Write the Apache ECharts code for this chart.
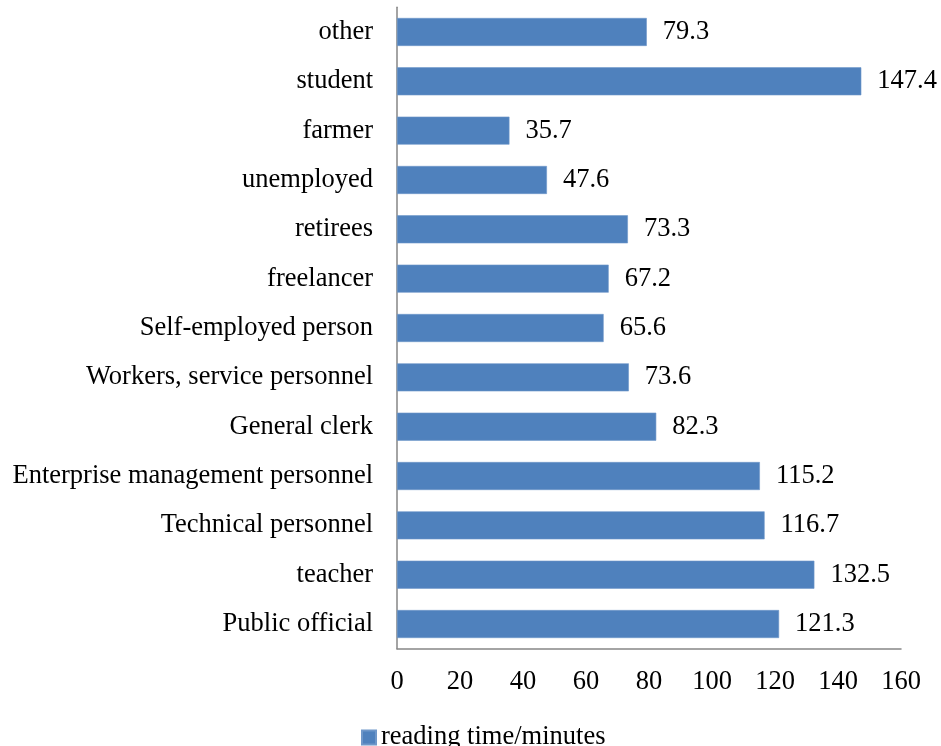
<!DOCTYPE html>
<html>
<head>
<meta charset="utf-8">
<script src="https://cdn.jsdelivr.net/npm/echarts@6/dist/echarts.min.js"></script>
<style>
  html, body { margin: 0; padding: 0; background: #fff; }
  #chart { width: 941px; height: 746px; }
</style>
</head>
<body>
<div id="chart"></div>
<script>
// Occupations, listed bottom-to-top as drawn on the category axis
const occupations = [
  'Public official', 'teacher', 'Technical personnel', 'Enterprise management personnel',
  'General clerk', 'Workers, service personnel', 'Self-employed person', 'freelancer',
  'retirees', 'unemployed', 'farmer', 'student', 'other'
];
// Average reading time in minutes for each occupation
const readingMinutes = [121.3, 132.5, 116.7, 115.2, 82.3, 73.6, 65.6, 67.2, 73.3, 47.6, 35.7, 147.4, 79.3];
const seriesName = 'reading time/minutes';
const axisTicks = { min: 0, max: 160, interval: 20 };

const FONT = '"Liberation Serif", "Times New Roman", serif';
const FONT_SIZE = 26.5;
const chart = echarts.init(document.getElementById('chart'), null, { renderer: 'canvas' });

chart.setOption({
  animation: false,
  backgroundColor: '#ffffff',
  grid: { left: 397, right: 40, top: 7.3, bottom: 97.3, containLabel: false },
  legend: {
    data: [seriesName],
    left: 356,
    top: 719,
    itemWidth: 14,
    itemHeight: 14,
    icon: 'rect',
    textStyle: { fontFamily: FONT, fontSize: FONT_SIZE, color: '#000' }
  },
  xAxis: {
    type: 'value',
    min: axisTicks.min,
    max: axisTicks.max,
    interval: axisTicks.interval,
    axisLine: { show: true, lineStyle: { color: '#868686', width: 1.5 } },
    axisTick: { show: false },
    splitLine: { show: false },
    axisLabel: { fontFamily: FONT, fontSize: FONT_SIZE, color: '#000', margin: 20 }
  },
  yAxis: {
    type: 'category',
    data: occupations,
    axisLine: { show: true, lineStyle: { color: '#868686', width: 1.5 } },
    axisTick: { show: false },
    axisLabel: { fontFamily: FONT, fontSize: FONT_SIZE, color: '#000', margin: 24 }
  },
  series: [{
    name: seriesName,
    type: 'bar',
    data: readingMinutes,
    barWidth: 28,
    itemStyle: { color: '#4F81BD', borderColor: '#6F97C9', borderWidth: 0.6 },
    label: {
      show: true,
      position: 'right',
      distance: 16,
      fontFamily: FONT,
      fontSize: FONT_SIZE,
      color: '#000'
    }
  }]
});
</script>
</body>
</html>
